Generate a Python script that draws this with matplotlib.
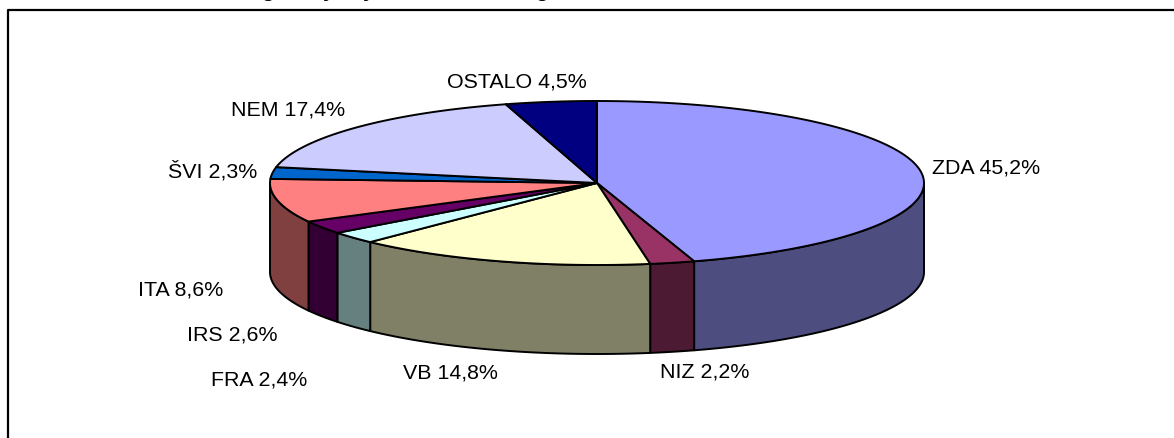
import numpy as np
import matplotlib
matplotlib.use("Agg")
import matplotlib.pyplot as plt

labels = ["ZDA", "NIZ", "VB", "FRA", "IRS", "ITA", "ŠVI", "NEM", "OSTALO"]
shares = [45.2, 2.2, 14.8, 2.4, 2.6, 8.6, 2.3, 17.4, 4.5]
top_colors = ["#9999ff", "#993366", "#ffffcc", "#ccffff", "#660066",
              "#ff8080", "#0066cc", "#ccccff", "#000080"]
side_colors = ["#4d4d80", "#4d1a33", "#808066", "#668080", "#330033",
               "#804040", "#003366", "#666680", "#000040"]
label_xy = [(932, 174), (660, 378), (403, 379), (211, 386), (187, 341),
            (138, 296), (168, 178), (231, 116), (447, 87)]

# the title sits above the picture, only these descenders are left of it
title_glyphs = ["g", "y", "y", "g"]
title_x = [267, 329, 369, 542]

W, H = 1174, 439
cx, cy, rx, ry, depth = 597, 184, 327, 82, 89

fig = plt.figure(figsize=(W / 100, H / 100), dpi=100, facecolor="white")
ax = fig.add_axes([0, 0, 1, 1])
ax.set_xlim(0, W)
ax.set_ylim(H, 0)
ax.axis("off")

# chart frame, runs off the right and bottom edges
ax.plot([8, 8, W + 5], [H + 5, 11, 11], color="black", lw=1.6, zorder=1)

for g, x in zip(title_glyphs, title_x):
    ax.text(x, -3, g, ha="center", va="baseline", fontsize=15, fontweight="bold",
            family="Liberation Sans", clip_on=False)

ends = np.cumsum(shares) / np.sum(shares) * 2 * np.pi
starts = np.r_[0, ends[:-1]]


def rim(a0, a1, n=120):
    a = np.linspace(a0, a1, n)
    return cx + rx * np.sin(a), cy - ry * np.cos(a)


# side walls, only the front half of the ellipse is visible
for a0, a1, c in zip(starts, ends, side_colors):
    a0v, a1v = max(a0, np.pi / 2), min(a1, 3 * np.pi / 2)
    if a1v <= a0v:
        continue
    x, y = rim(a0v, a1v)
    ax.fill(np.r_[x, x[::-1]], np.r_[y, y[::-1] + depth], fc=c, ec="black",
            lw=1.4, joinstyle="round", zorder=2)

# top faces
for a0, a1, c in zip(starts, ends, top_colors):
    x, y = rim(a0, a1)
    ax.fill(np.r_[cx, x], np.r_[cy, y], fc=c, ec="black", lw=1.4,
            joinstyle="round", zorder=3)

for name, val, (lx, ly) in zip(labels, shares, label_xy):
    ax.text(lx, ly, f"{name} {val:.1f}%".replace(".", ","), ha="left", va="baseline",
            fontsize=15.4, family="Liberation Sans", color="black", zorder=4)

fig.savefig("out.png", dpi=100, facecolor="white")
plt.close(fig)
